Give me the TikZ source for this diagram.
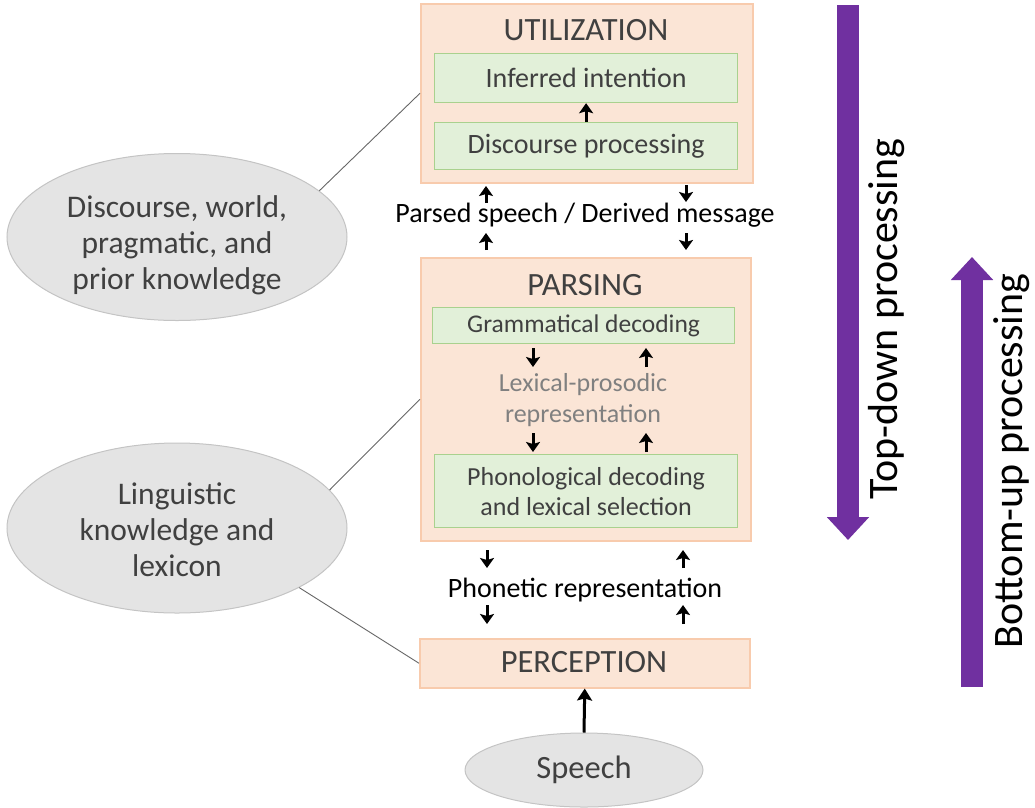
\documentclass[tikz,border=0pt]{standalone}
\usepackage{fontspec}
\setmainfont{Carlito}
\usetikzlibrary{arrows.meta,shapes.geometric}
\definecolor{boxfill}{HTML}{FBE5D6}
\definecolor{boxdraw}{HTML}{F8CBAD}
\definecolor{gfill}{HTML}{E2F0D9}
\definecolor{gdraw}{HTML}{A9D18E}
\definecolor{efill}{HTML}{E4E4E4}
\definecolor{edraw}{HTML}{C4C4C4}
\definecolor{txt}{HTML}{404040}
\definecolor{ltxt}{HTML}{808080}
\definecolor{purp}{HTML}{7030A0}
\tikzset{
  stage/.style={draw=boxdraw, fill=boxfill, line width=1.5pt, inner sep=0pt, anchor=north west},
  sub/.style={draw=gdraw, fill=gfill, line width=1.2pt, inner sep=0pt, anchor=north west, text=txt, align=center},
  head/.style={text=txt, font=\fontsize{32.5}{39}\selectfont},
  know/.style={ellipse, draw=edraw, fill=efill, line width=1pt, inner sep=0pt, text=txt, align=center, font=\fontsize{31.5}{37}\selectfont},
  knowtext/.style={text=txt, align=center, font=\fontsize{31.5}{36}\selectfont},
  lbl/.style={text=black, font=\fontsize{28}{33}\selectfont},
  sarr/.style={line width=3pt, -{Stealth[length=10pt,width=14pt,inset=2pt]}},
  link/.style={draw=txt!80, line width=0.9pt},
  big/.style={draw=purp, line width=22pt, -{Triangle[width=41pt,length=23pt]}},
  side/.style={rotate=90, text=black, font=\fontsize{42}{50}\selectfont}
}
\begin{document}
\begin{tikzpicture}[x=1pt,y=-1pt]
\useasboundingbox (0,0) rectangle (1035,807);

% UTILIZATION
\node[stage, minimum width=332, minimum height=179] (util) at (420,3) {};
\node[head] (utilh) at (586,30) {UTILIZATION};
\node[sub, minimum width=303, minimum height=49, font=\fontsize{28}{33}\selectfont] (inf) at (434,53) {Inferred intention};
\node[sub, minimum width=303, minimum height=47, font=\fontsize{28}{33}\selectfont] (disc) at (434,122) {Discourse processing};
\draw[sarr] (disc.north) -- (inf.south);

% between utilization and parsing
\node[lbl] (pm) at (585,215) {Parsed speech / Derived message};
\coordinate (u1a) at (486,203); \coordinate (u1b) at (486,186);
\coordinate (u2a) at (486,250); \coordinate (u2b) at (486,233);
\coordinate (d1a) at (686,185); \coordinate (d1b) at (686,202);
\coordinate (d2a) at (686,233); \coordinate (d2b) at (686,250);
\draw[sarr] (u1a) -- (u1b);
\draw[sarr] (u2a) -- (u2b);
\draw[sarr] (d1a) -- (d1b);
\draw[sarr] (d2a) -- (d2b);

% PARSING
\node[stage, minimum width=330, minimum height=283] (parse) at (420,257) {};
\node[head] (parseh) at (585,285) {PARSING};
\node[sub, minimum width=302, minimum height=36, font=\fontsize{25.5}{30}\selectfont] (gram) at (432,307) {Grammatical decoding};
\node[text=ltxt, align=center, font=\fontsize{26}{31}\selectfont] (lex) at (583,400) {Lexical-prosodic\\representation};
\node[sub, minimum width=303, minimum height=73, font=\fontsize{26}{30}\selectfont] (phon) at (434,454) {Phonological decoding\\and lexical selection};
\coordinate (p1a) at (533,348); \coordinate (p1b) at (533,367);
\coordinate (p2a) at (646,367); \coordinate (p2b) at (646,348);
\coordinate (p3a) at (533,433); \coordinate (p3b) at (533,452);
\coordinate (p4a) at (646,452); \coordinate (p4b) at (646,433);
\draw[sarr] (p1a) -- (p1b);
\draw[sarr] (p2a) -- (p2b);
\draw[sarr] (p3a) -- (p3b);
\draw[sarr] (p4a) -- (p4b);

% between parsing and perception
\node[lbl] (phr) at (585,590) {Phonetic representation};
\coordinate (q1a) at (487,550); \coordinate (q1b) at (487,568);
\coordinate (q2a) at (487,605); \coordinate (q2b) at (487,624);
\coordinate (q3a) at (683,568); \coordinate (q3b) at (683,550);
\coordinate (q4a) at (683,624); \coordinate (q4b) at (683,605);
\draw[sarr] (q1a) -- (q1b);
\draw[sarr] (q2a) -- (q2b);
\draw[sarr] (q3a) -- (q3b);
\draw[sarr] (q4a) -- (q4b);

% PERCEPTION
\node[stage, minimum width=330, minimum height=49] (perc) at (419,638) {};
\node[head] (perch) at (584,662) {PERCEPTION};

% Speech
\node[know, minimum width=238, minimum height=74, font=\fontsize{32.5}{39}\selectfont] (speech) at (584,770) {Speech};
\draw[line width=3pt, -{Stealth[length=12pt,width=15pt,inset=2pt]}] (speech.north) -- (perc.south);

% knowledge ellipses
\node[know, minimum width=340, minimum height=167] (e1) at (177,237) {};
\node[knowtext] (e1t) at (177,245) {Discourse, world,\\pragmatic, and\\prior knowledge};
\node[know, minimum width=340, minimum height=170] (e2) at (177,528) {};
\node[knowtext] (e2t) at (177,530) {Linguistic\\knowledge and\\lexicon};
\draw[link] (e1.18) -- (util.west);
\draw[link] (e2.14) -- (parse.west);
\draw[link] (e2.-26) -- (perc.west);

% processing direction arrows
\coordinate (tdA) at (848,5); \coordinate (tdB) at (848,540);
\coordinate (buA) at (972,687); \coordinate (buB) at (972,257);
\draw[big] (tdA) -- (tdB);
\draw[big] (buA) -- (buB);
\node[side] (tdl) at (887,319) {Top-down processing};
\node[side] (bul) at (1012,461) {Bottom-up processing};
\end{tikzpicture}
\end{document}
